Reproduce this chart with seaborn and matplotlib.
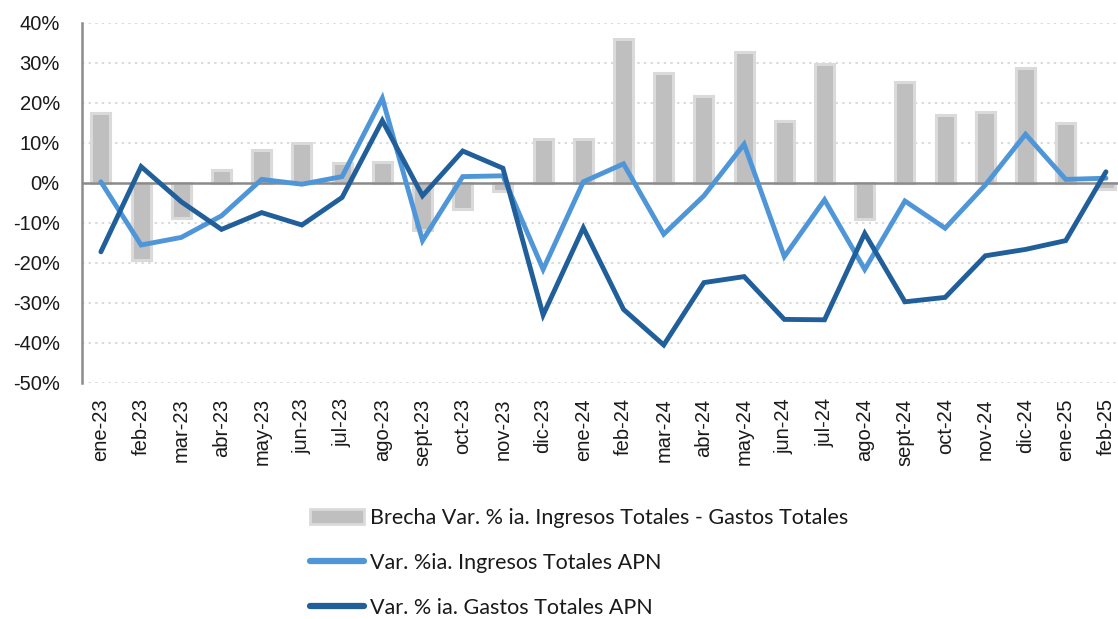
import matplotlib
matplotlib.use("Agg")
import matplotlib.pyplot as plt
import seaborn as sns
import pandas as pd
from matplotlib.patches import Patch
from matplotlib.lines import Line2D
from matplotlib.ticker import FuncFormatter

months = ["ene-23", "feb-23", "mar-23", "abr-23", "may-23", "jun-23", "jul-23",
          "ago-23", "sept-23", "oct-23", "nov-23", "dic-23", "ene-24", "feb-24",
          "mar-24", "abr-24", "may-24", "jun-24", "jul-24", "ago-24", "sept-24",
          "oct-24", "nov-24", "dic-24", "ene-25", "feb-25"]

brecha = [17.4, -19.3, -8.8, 3.2, 8.3, 10.0, 5.0, 5.3, -11.7, -6.6, -2.0, 11.0,
          11.0, 36.0, 27.6, 21.8, 32.8, 15.6, 29.8, -9.0, 25.3, 17.0, 17.7, 28.7,
          15.0, -1.6]

ingresos = [0.3, -15.5, -13.6, -8.2, 0.9, -0.3, 1.6, 21.2, -14.4, 1.6, 1.8, -21.6,
            0.3, 4.8, -12.8, -3.2, 9.7, -18.4, -4.2, -21.6, -4.5, -11.3, -0.5, 12.2,
            0.9, 1.2]

gastos = [-17.2, 4.1, -4.7, -11.6, -7.4, -10.5, -3.6, 15.6, -3.2, 8.0, 3.7, -33.0,
          -11.2, -31.6, -40.5, -24.9, -23.4, -34.1, -34.2, -12.6, -29.7, -28.6, -18.2,
          -16.6, -14.4, 2.8]

yticks = [-50, -40, -30, -20, -10, 0, 10, 20, 30, 40]

lab_bar = "Brecha Var. % ia. Ingresos Totales - Gastos Totales"
lab_ing = "Var. %ia. Ingresos Totales APN"
lab_gas = "Var. % ia. Gastos Totales APN"

c_bar = "#bfbfbf"
c_bar_edge = "#dadada"
c_ing = "#4f96d8"
c_gas = "#215f9a"

df = pd.DataFrame({"mes": months, "brecha": brecha, "ingresos": ingresos, "gastos": gastos})

sns.set_theme(style="white")
plt.rcParams["font.family"] = ["Liberation Sans", "DejaVu Sans"]

fig = plt.figure(figsize=(11.18, 6.19), dpi=100)
W, H = 1118, 619
left, right, top, bottom = 82, 1118, 23, 383
ax = fig.add_axes([left / W, (H - bottom) / H, (right - left) / W, (bottom - top) / H])

# grid
for t in yticks:
    if t != 0:
        ax.axhline(t, color="#d9d9d9", lw=1.4, ls=(0, (1.2, 2.2)), zorder=0)

sns.barplot(data=df, x="mes", y="brecha", order=months, color=c_bar, width=0.47,
            edgecolor=c_bar_edge, linewidth=2.2, saturation=1, ax=ax, zorder=2)
ax.axhline(0, color="#8a8a8a", lw=1.8, zorder=3)
sns.lineplot(data=df, x="mes", y="ingresos", sort=False, color=c_ing, lw=3.5,
             ax=ax, zorder=4, solid_joinstyle="miter")
sns.lineplot(data=df, x="mes", y="gastos", sort=False, color=c_gas, lw=3.5,
             ax=ax, zorder=5, solid_joinstyle="miter")

ax.set_xlim(-0.47, 25.3)
ax.set_ylim(-50, 40)
ax.set_yticks(yticks)
ax.yaxis.set_major_formatter(FuncFormatter(lambda v, p: f"{v:.0f}%"))
ax.set_xlabel("")
ax.set_ylabel("")
ax.tick_params(axis="y", length=0, pad=16, labelsize=14.5, labelcolor="#1a1a1a")
ax.tick_params(axis="x", length=0, pad=11, labelsize=14.5, labelcolor="#1a1a1a")
for lbl in ax.get_xticklabels():
    lbl.set_rotation(90)
for s in ["top", "right", "bottom"]:
    ax.spines[s].set_visible(False)
ax.spines["left"].set_color("#8c8c8c")
ax.spines["left"].set_linewidth(1.8)
ax.grid(False)

handles = [
    Patch(facecolor=c_bar, edgecolor=c_bar_edge, linewidth=2.0, label=lab_bar),
    Line2D([], [], color=c_ing, lw=4.5, solid_capstyle="round", label=lab_ing),
    Line2D([], [], color=c_gas, lw=4.5, solid_capstyle="round", label=lab_gas),
]
fig.legend(handles=handles, loc="upper left", bbox_to_anchor=(310 / W, (H - 508) / H),
           frameon=False, prop={"family": "Lato", "size": 15.5},
           handlelength=2.5, handleheight=0.7, handletextpad=0.28,
           labelspacing=1.15, borderpad=0, borderaxespad=0, labelcolor="#1a1a1a")

fig.savefig("out.png", dpi=100)
